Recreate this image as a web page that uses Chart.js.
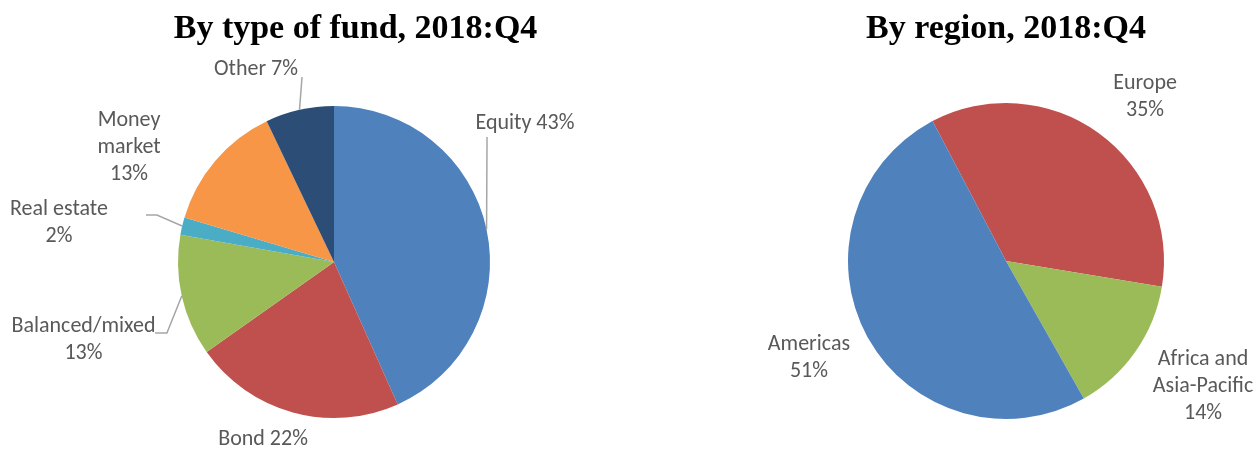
<!DOCTYPE html>
<html>
<head>
<meta charset="utf-8">
<script src="https://cdn.jsdelivr.net/npm/chart.js@4/dist/chart.umd.min.js"></script>
<style>
  html, body { margin: 0; padding: 0; background: #ffffff; }
  body { width: 1256px; height: 449px; position: relative; overflow: hidden; }
  canvas { position: absolute; top: 0; }
  #c1 { left: 0; }
  #c2 { left: 628px; }
</style>
</head>
<body>
<canvas id="c1" width="628" height="449"></canvas>
<canvas id="c2" width="628" height="449"></canvas>
<script>
// ---------- data ----------
const fundTitle = "By type of fund, 2018:Q4";
const fundCategories = ["Equity", "Bond", "Balanced/mixed", "Real estate", "Money market", "Other"];
const fundShares = [43.3, 21.9, 12.6, 1.8, 13.3, 7.1];
const fundPctLabels = ["43%", "22%", "13%", "2%", "13%", "7%"];

const regionTitle = "By region, 2018:Q4";
const regionCategories = ["Europe", "Africa and Asia-Pacific", "Americas"];
const regionShares = [35.3, 14.2, 50.5];
const regionPctLabels = ["35%", "14%", "51%"];

// ---------- styles / layout ----------
const fundColors = ["#4F81BD", "#C0504D", "#9BBB59", "#4BACC6", "#F79646", "#2C4D75"];
const regionColors = ["#C0504D", "#9BBB59", "#4F81BD"];

// label text lines per slice
const fundLabelLines = [
  ["Equity 43%"], ["Bond 22%"], ["Balanced/mixed", "13%"], ["Real estate", "2%"],
  ["Money", "market", "13%"], ["Other 7%"]
];
const regionLabelLines = [["Europe", "35%"], ["Africa and", "Asia-Pacific", "14%"], ["Americas", "51%"]];

// label placement relative to pie centre, in units of the pie radius
const fundLabelLayout = [
  { at: [1.224, -0.888], leader: [[0.981, -0.801]] },
  { at: [-0.455, 1.141], leader: null },
  { at: [-1.606, 0.497], leader: [[-1.071, 0.455], [-1.147, 0.455]] },
  { at: [-1.763, -0.247], leader: [[-1.135, -0.301], [-1.205, -0.301]] },
  { at: [-1.314, -0.731], leader: null },
  { at: [-0.500, -1.237], leader: [[-0.205, -1.186]] }
];
const regionLabelLayout = [
  { at: [0.880, -1.035], leader: null },
  { at: [1.247, 0.794], leader: null },
  { at: [-1.247, 0.617], leader: null }
];

const labelFont = '22px Carlito, Calibri, Lato, sans-serif';
const labelColor = '#595959';
const lineHeight = 27;
const leaderColor = '#A6A6A6';
const titleFont = 'bold 34px "Liberation Serif", "Times New Roman", serif';

const pieLabelPlugin = {
  id: 'pieLabels',
  afterDraw(chart, args, opts) {
    const ctx = chart.ctx;
    const meta = chart.getDatasetMeta(0);
    if (!meta.data.length) return;
    const c = meta.data[0];
    const cx = c.x, cy = c.y, R = c.outerRadius;
    ctx.save();
    // title
    ctx.font = titleFont;
    ctx.fillStyle = '#000000';
    ctx.textAlign = 'center';
    ctx.textBaseline = 'alphabetic';
    ctx.fillText(opts.title, cx + opts.titleShift * R, opts.titleBaseline);
    // slice labels
    meta.data.forEach((arc, i) => {
      const lay = opts.layout[i];
      const lines = opts.lines[i];
      const lx = cx + lay.at[0] * R, ly = cy + lay.at[1] * R;
      if (lay.leader) {
        const mid = (arc.startAngle + arc.endAngle) / 2;
        ctx.beginPath();
        ctx.moveTo(cx + Math.cos(mid) * R, cy + Math.sin(mid) * R);
        lay.leader.forEach(p => ctx.lineTo(cx + p[0] * R, cy + p[1] * R));
        ctx.strokeStyle = leaderColor;
        ctx.lineWidth = 1.5;
        ctx.stroke();
      }
      ctx.font = labelFont;
      ctx.fillStyle = labelColor;
      ctx.textAlign = 'center';
      ctx.textBaseline = 'middle';
      const top = ly - (lines.length - 1) * lineHeight / 2;
      lines.forEach((t, k) => ctx.fillText(t, lx, top + k * lineHeight));
    });
    ctx.restore();
  }
};

function makePie(id, labels, values, colors, rotation, padding, pluginOpts) {
  return new Chart(document.getElementById(id), {
    type: 'pie',
    data: {
      labels: labels,
      datasets: [{ data: values, backgroundColor: colors, borderWidth: 0, hoverOffset: 0 }]
    },
    options: {
      responsive: false,
      animation: false,
      rotation: rotation,
      layout: { padding: padding },
      plugins: {
        legend: { display: false },
        tooltip: { enabled: false },
        title: { display: false },
        pieLabels: pluginOpts
      },
      events: []
    },
    plugins: [pieLabelPlugin]
  });
}

makePie('c1', fundCategories, fundShares, fundColors, 0,
  { left: 178, right: 138, top: 106, bottom: 31 },
  { title: fundTitle, titleShift: 0.138, titleBaseline: 38, lines: fundLabelLines, layout: fundLabelLayout });

makePie('c2', regionCategories, regionShares, regionColors, -27.7,
  { left: 220, right: 92, top: 103, bottom: 30 },
  { title: regionTitle, titleShift: 0, titleBaseline: 38, lines: regionLabelLines, layout: regionLabelLayout });
</script>
</body>
</html>
